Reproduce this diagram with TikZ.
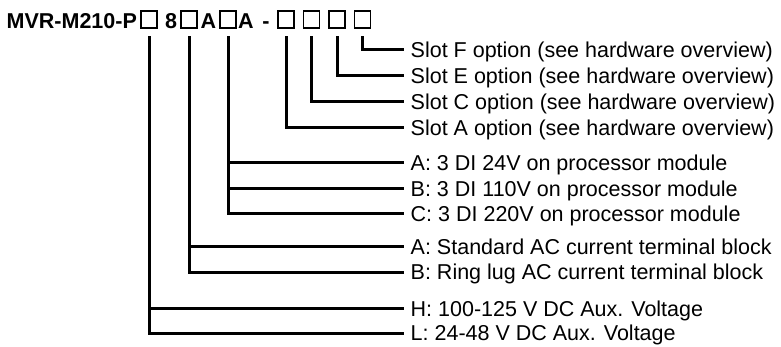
\documentclass[tikz,border=0pt]{standalone}
\usepackage{fontspec}
\setmainfont{Liberation Sans}
\usetikzlibrary{positioning}

\begin{document}
\begin{tikzpicture}[x=1pt,y=-1pt,line join=miter,
      slot box/.style={draw,line width=1.2pt,minimum width=16pt,minimum height=17pt,inner sep=0pt},
      code part/.style={font=\bfseries\fontsize{21.5}{24}\selectfont,inner sep=0pt,anchor=base},
      option/.style={anchor=west,inner xsep=6.5pt,inner ysep=0pt,text height=15.4pt,
        text depth=0pt,font=\fontsize{21.5}{24}\selectfont},
      wire/.style={line width=3pt,shorten <=7.9pt}]

      \useasboundingbox (0,0) rectangle (781,347);

      % order code
      \node[code part,anchor=base west] (model) at (6.5,28.5) {MVR-M210-P};
      \node[slot box] (aux) at (149,19.5) {};
      \node[code part] (eight) at (171,28.5) {8};
      \node[slot box] (ct) at (189,19.5) {};
      \node[code part] (a1) at (208.5,28.5) {A};
      \node[slot box] (di) at (228,19.5) {};
      \node[code part] (a2) at (246,28.5) {A};
      \node[code part] (dash) at (266,28.5) {-};
      \node[slot box] (sA) at (286,19.5) {};
      \node[slot box] (sC) at (311.5,19.5) {};
      \node[slot box] (sE) at (337,19.5) {};
      \node[slot box] (sF) at (362.5,19.5) {};

      % options
      \node[option] (optF) at (404,50) {Slot F option (see hardware overview)};
      \node[option] (optE) at (404,76) {Slot E option (see hardware overview)};
      \node[option] (optC) at (404,101.5) {Slot C option (see hardware overview)};
      \node[option] (optA) at (404,127.5) {Slot A option (see hardware overview)};
      \node[option] (di24) at (404,163) {A: 3 DI 24V on processor module};
      \node[option] (di110) at (404,188.5) {B: 3 DI 110V on processor module};
      \node[option] (di220) at (404,214) {C: 3 DI 220V on processor module};
      \node[option] (ctstd) at (404,247) {A: Standard AC current terminal block};
      \node[option] (ctring) at (404,272) {B: Ring lug AC current terminal block};
      \node[option] (auxH) at (404,308.5) {H: 100-125 V DC Aux. Voltage};
      \node[option] (auxL) at (404,333) {L: 24-48 V DC Aux. Voltage};

      \draw[wire] (sF.south) |- (optF.west);
      \draw[wire] (sE.south) |- (optE.west);
      \draw[wire] (sC.south) |- (optC.west);
      \draw[wire] (sA.south) |- (optA.west);
      \draw[wire] (di.south) |- (di24.west);
      \draw[wire] (di.south) |- (di110.west);
      \draw[wire] (di.south) |- (di220.west);
      \draw[wire] (ct.south) |- (ctstd.west);
      \draw[wire] (ct.south) |- (ctring.west);
      \draw[wire] (aux.south) |- (auxH.west);
      \draw[wire] (aux.south) |- (auxL.west);
    \end{tikzpicture}
\end{document}
